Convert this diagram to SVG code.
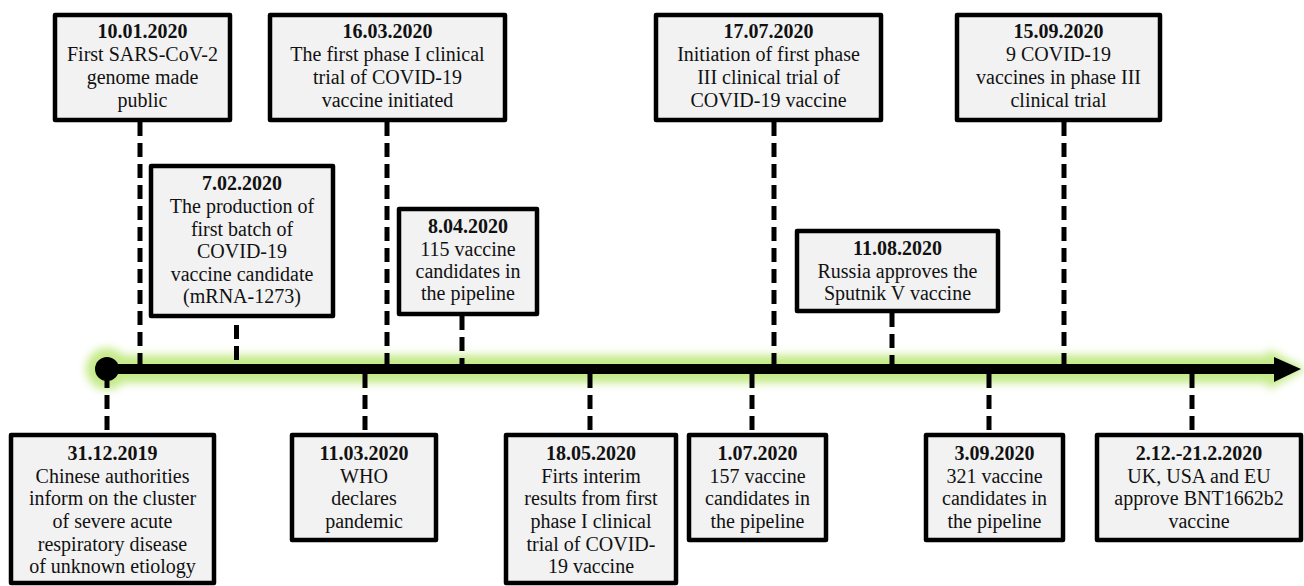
<svg xmlns="http://www.w3.org/2000/svg" width="1304" height="586" viewBox="0 0 1304 586">
<style>
.box{fill:#f2f2f2;stroke:#000;stroke-width:4.5;stroke-linejoin:round}
.t{font-family:"Liberation Serif","DejaVu Serif",serif;font-size:20px;fill:#111;text-anchor:middle}
.d{font-weight:bold}
.dash{stroke:#000;stroke-width:5;stroke-dasharray:14 7;fill:none}
</style>
<defs>
<filter id="glow" x="-5%" y="-200%" width="110%" height="500%">
<feGaussianBlur stdDeviation="4.5"/>
</filter>
</defs>
<rect width="1304" height="586" fill="#fff"/>
<g id="timeline">
<g filter="url(#glow)">
<path d="M100 369 H1280" stroke="#c4ea88" stroke-width="28" fill="none"/>
<circle cx="107" cy="369" r="21" fill="#c4ea88"/>
<polygon points="1268,349 1306,369 1268,390" fill="#c4ea88"/>
</g>
<line x1="107" y1="369" x2="1278" y2="369" stroke="#000" stroke-width="10"/>
<circle cx="107" cy="369" r="12" fill="#000"/>
<polygon points="1274,357 1301,369 1274,382" fill="#000"/>
</g>
<g id="connectors">
<line class="dash" x1="140" y1="122" x2="140" y2="364"/>
<line class="dash" x1="387" y1="122" x2="387" y2="364"/>
<line class="dash" x1="774" y1="122" x2="774" y2="364"/>
<line class="dash" x1="1064" y1="122" x2="1064" y2="364"/>
<line class="dash" x1="236.5" y1="325" x2="236.5" y2="364"/>
<line class="dash" x1="462" y1="316" x2="462" y2="364"/>
<line class="dash" x1="892" y1="313" x2="892" y2="364"/>
<line class="dash" x1="107" y1="374" x2="107" y2="433"/>
<line class="dash" x1="365" y1="374" x2="365" y2="433"/>
<line class="dash" x1="590" y1="374" x2="590" y2="433"/>
<line class="dash" x1="752" y1="374" x2="752" y2="433"/>
<line class="dash" x1="989" y1="374" x2="989" y2="433"/>
<line class="dash" x1="1192" y1="374" x2="1192" y2="433"/>
</g>
<g id="n1001">
<rect class="box" x="55" y="15" width="175" height="105"/>
<text class="t" x="142.5"><tspan class="d" x="142.5" y="38">10.01.2020</tspan><tspan x="142.5" y="61">First SARS-CoV-2</tspan><tspan x="142.5" y="84">genome made</tspan><tspan x="142.5" y="107">public</tspan></text>
</g>
<g id="n1603">
<rect class="box" x="270" y="15" width="235" height="105"/>
<text class="t" x="387.5"><tspan class="d" x="387.5" y="38">16.03.2020</tspan><tspan x="387.5" y="61">The first phase I clinical</tspan><tspan x="387.5" y="84">trial of COVID-19</tspan><tspan x="387.5" y="107">vaccine initiated</tspan></text>
</g>
<g id="n1707">
<rect class="box" x="656" y="15" width="225" height="105"/>
<text class="t" x="768.5"><tspan class="d" x="768.5" y="38">17.07.2020</tspan><tspan x="768.5" y="61">Initiation of first phase</tspan><tspan x="768.5" y="84">III clinical trial of</tspan><tspan x="768.5" y="107">COVID-19 vaccine</tspan></text>
</g>
<g id="n1509">
<rect class="box" x="957" y="15" width="203" height="105"/>
<text class="t" x="1058.5"><tspan class="d" x="1058.5" y="38">15.09.2020</tspan><tspan x="1058.5" y="61">9 COVID-19</tspan><tspan x="1058.5" y="84">vaccines in phase III</tspan><tspan x="1058.5" y="107">clinical trial</tspan></text>
</g>
<g id="n0702">
<rect class="box" x="151" y="166" width="182" height="150"/>
<text class="t" x="242"><tspan class="d" x="242" y="190">7.02.2020</tspan><tspan x="242" y="213">The production of</tspan><tspan x="242" y="236">first batch of</tspan><tspan x="242" y="258">COVID-19</tspan><tspan x="242" y="281">vaccine candidate</tspan><tspan x="242" y="303">(mRNA-1273)</tspan></text>
</g>
<g id="n0804">
<rect class="box" x="399" y="209" width="138" height="105"/>
<text class="t" x="468"><tspan class="d" x="468" y="233">8.04.2020</tspan><tspan x="468" y="256">115 vaccine</tspan><tspan x="468" y="278">candidates in</tspan><tspan x="468" y="300">the pipeline</tspan></text>
</g>
<g id="n1108">
<rect class="box" x="797" y="231" width="201" height="80"/>
<text class="t" x="897.5"><tspan class="d" x="897.5" y="255">11.08.2020</tspan><tspan x="897.5" y="278">Russia approves the</tspan><tspan x="897.5" y="300">Sputnik V vaccine</tspan></text>
</g>
<g id="n3112">
<rect class="box" x="11" y="435" width="203" height="148"/>
<text class="t" x="112.5"><tspan class="d" x="112.5" y="460">31.12.2019</tspan><tspan x="112.5" y="483">Chinese authorities</tspan><tspan x="112.5" y="505">inform on the cluster</tspan><tspan x="112.5" y="528">of severe acute</tspan><tspan x="112.5" y="551">respiratory disease</tspan><tspan x="112.5" y="573">of unknown etiology</tspan></text>
</g>
<g id="n1103">
<rect class="box" x="292" y="435" width="144" height="105"/>
<text class="t" x="364"><tspan class="d" x="364" y="460">11.03.2020</tspan><tspan x="364" y="483">WHO</tspan><tspan x="364" y="505">declares</tspan><tspan x="364" y="528">pandemic</tspan></text>
</g>
<g id="n1805">
<rect class="box" x="506" y="435" width="170" height="148"/>
<text class="t" x="591"><tspan class="d" x="591" y="460">18.05.2020</tspan><tspan x="591" y="483">Firts interim</tspan><tspan x="591" y="505">results from first</tspan><tspan x="591" y="528">phase I clinical</tspan><tspan x="591" y="551">trial of COVID-</tspan><tspan x="591" y="573">19 vaccine</tspan></text>
</g>
<g id="n0107">
<rect class="box" x="689" y="435" width="137" height="105"/>
<text class="t" x="757.5"><tspan class="d" x="757.5" y="460">1.07.2020</tspan><tspan x="757.5" y="483">157 vaccine</tspan><tspan x="757.5" y="505">candidates in</tspan><tspan x="757.5" y="528">the pipeline</tspan></text>
</g>
<g id="n0309">
<rect class="box" x="926" y="435" width="137" height="105"/>
<text class="t" x="994.5"><tspan class="d" x="994.5" y="460">3.09.2020</tspan><tspan x="994.5" y="483">321 vaccine</tspan><tspan x="994.5" y="505">candidates in</tspan><tspan x="994.5" y="528">the pipeline</tspan></text>
</g>
<g id="n0212">
<rect class="box" x="1097" y="435" width="204" height="105"/>
<text class="t" x="1199"><tspan class="d" x="1199" y="460">2.12.-21.2.2020</tspan><tspan x="1199" y="483">UK, USA and EU</tspan><tspan x="1199" y="505">approve BNT1662b2</tspan><tspan x="1199" y="528">vaccine</tspan></text>
</g>
</svg>
